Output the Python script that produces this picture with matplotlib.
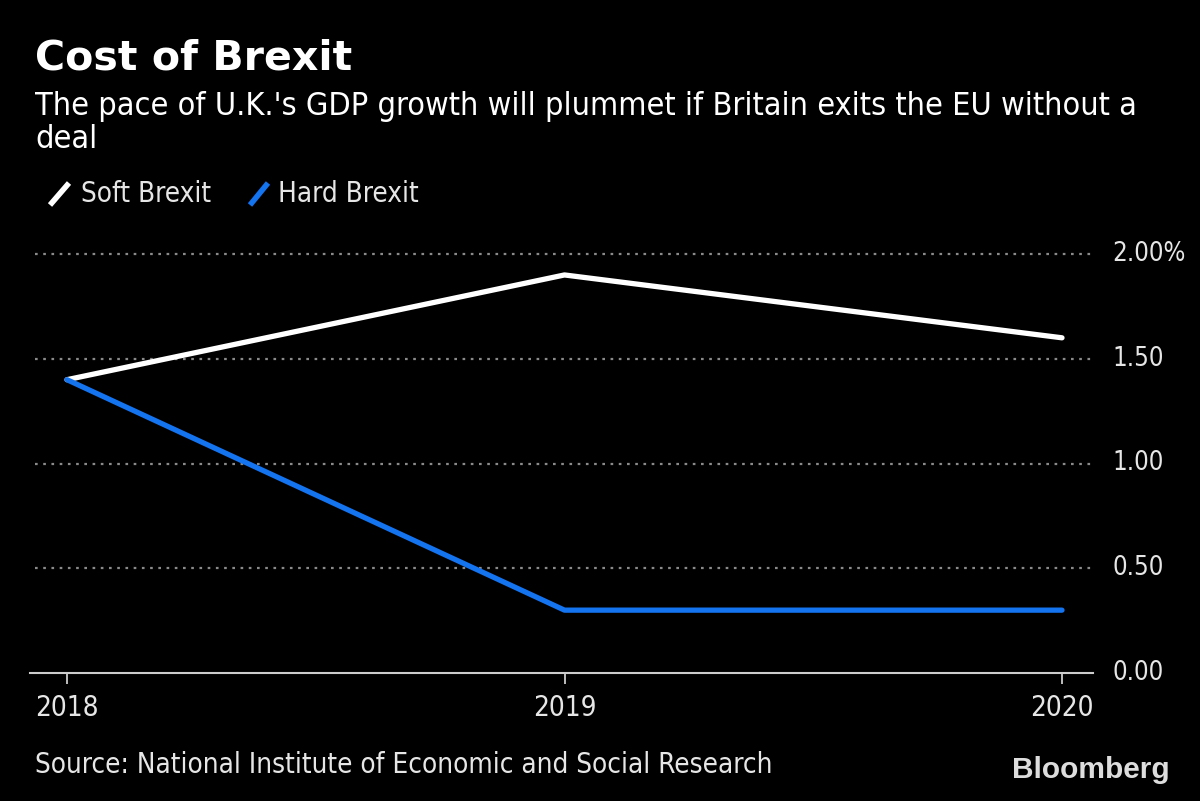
import matplotlib
matplotlib.use("Agg")
import matplotlib.pyplot as plt
from matplotlib.lines import Line2D

years = [2018, 2019, 2020]
soft_brexit = [1.40, 1.90, 1.60]
hard_brexit = [1.40, 0.30, 0.30]
y_ticks = [0.0, 0.5, 1.0, 1.5, 2.0]
y_tick_labels = ["0.00", "0.50", "1.00", "1.50", "2.00%"]
x_tick_labels = ["2018", "2019", "2020"]

W, H = 1200, 801
fig = plt.figure(figsize=(W / 100, H / 100), dpi=100, facecolor="black")
FONT = "DejaVu Sans"
TXT = "#e6e6e6"
BLUE = "#1474f0"

def fx(px):
    return px / W

def fy(py):
    return 1 - py / H

y0, y2 = 673, 254
ppu = (y0 - y2) / 2.0
ytop = 2.1
x_left, x_right = 30, 1093
ax = fig.add_axes([fx(x_left), fy(y0), fx(x_right - x_left), (ytop * ppu) / H])
ax.set_facecolor("black")
ppx = (1062 - 67) / 2.0
ax.set_xlim(2018 - (67 - x_left) / ppx, 2020 + (x_right - 1062) / ppx)
ax.set_ylim(0, ytop)

for s in ["top", "right", "left"]:
    ax.spines[s].set_visible(False)
ax.spines["bottom"].set_color("#cccccc")
ax.spines["bottom"].set_linewidth(1.5)

for yv in y_ticks[1:]:
    ax.plot([ax.get_xlim()[0] + 5 / ppx, ax.get_xlim()[1]], [yv, yv], color="#8a8a8a",
            linestyle=(0, (1.2, 2.5)), linewidth=1.6, zorder=1)

ax.plot(years, soft_brexit, color="white", linewidth=3.8, solid_capstyle="round", zorder=3)
ax.plot(years, hard_brexit, color=BLUE, linewidth=3.8, solid_capstyle="round", zorder=3)

ax.set_xticks(years)
ax.set_xticklabels(x_tick_labels, fontsize=20, color=TXT, family=FONT, stretch="condensed")
ax.tick_params(axis="x", direction="out", length=8, width=1.3, color="#cccccc", pad=7)
ax.yaxis.tick_right()
ax.set_yticks(y_ticks)
ax.set_yticklabels(y_tick_labels, fontsize=18.5, color=TXT, family=FONT, stretch="condensed")
ax.tick_params(axis="y", length=0, pad=14)
for lab in ax.get_yticklabels():
    lab.set_verticalalignment("center")

fig.text(fx(35), fy(58), "Cost of Brexit", fontsize=29.6, fontweight="bold", color="white",
         family="DejaVu Sans", va="center", ha="left")
fig.text(fx(35), fy(106), "The pace of U.K.'s GDP growth will plummet if Britain exits the EU without a",
         fontsize=23.2, color="white", family=FONT, stretch="condensed", va="center", ha="left")
fig.text(fx(35), fy(140), "deal", fontsize=23.2, color="white", family=FONT, stretch="condensed",
         va="center", ha="left")

fig.add_artist(Line2D([fx(50), fx(69)], [fy(205), fy(183)], color="white", linewidth=4,
                      solid_capstyle="butt", transform=fig.transFigure))
fig.text(fx(81), fy(194), "Soft Brexit", fontsize=20, color=TXT, family=FONT, stretch="condensed",
         va="center", ha="left")
fig.add_artist(Line2D([fx(250), fx(268)], [fy(205), fy(183)], color=BLUE, linewidth=4,
                      solid_capstyle="butt", transform=fig.transFigure))
fig.text(fx(278), fy(194), "Hard Brexit", fontsize=20, color=TXT, family=FONT, stretch="condensed",
         va="center", ha="left")

fig.text(fx(35), fy(765), "Source: National Institute of Economic and Social Research", fontsize=20,
         color=TXT, family=FONT, stretch="condensed", va="center", ha="left")
fig.text(fx(1170), fy(770), "Bloomberg", fontsize=21.5, fontweight="bold", color="#dddddd",
         family="Liberation Sans", va="center", ha="right")

fig.savefig("out.png", dpi=100, facecolor="black")
